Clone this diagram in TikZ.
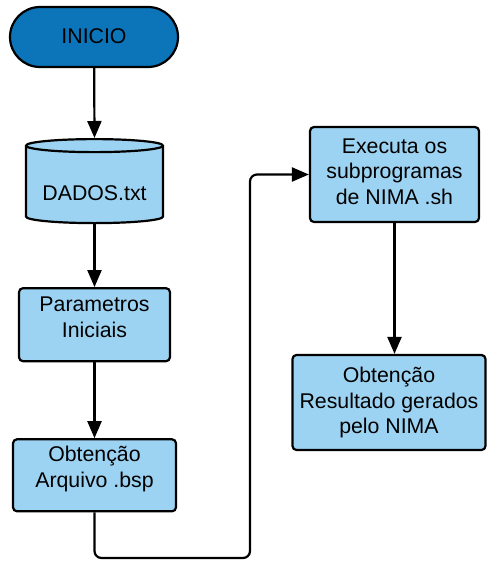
\documentclass[tikz,border=0pt]{standalone}
\usepackage{fontspec}
\setmainfont{Liberation Sans}
\usetikzlibrary{shapes.geometric,shapes.misc,arrows.meta}
\definecolor{caixa}{RGB}{157,211,242}
\definecolor{escuro}{RGB}{12,116,185}
\begin{document}
\begin{tikzpicture}[
	x = 1pt, y = -1pt,
	every node/.style = {font = \fontsize{21.3}{25.5}\selectfont, align = center, inner sep = 0pt},
	borda/.style = {draw, line width = 2.2pt},
	terminal/.style = {borda, rounded rectangle, fill = escuro},
	processo/.style = {borda, rounded corners = 4pt, fill = caixa},
	dados/.style = {borda, cylinder, shape border rotate = 90, aspect = 0.125, fill = caixa},
	sobe/.style = {execute at end node = {\rule[-#1]{0pt}{#1}}},
	desce/.style = {execute at begin node = {\rule{0pt}{#1}}},
	seta/.style = {line width = 2.2pt, -{Triangle[width=14pt,length=17pt]}}
	]

	\useasboundingbox (0,0) rectangle (487,563);

	\node[terminal, sobe = 2.6pt, minimum width = 168pt, minimum height = 60pt] (inicio) at (94,37) {INICIO};
	\node[dados, desce = 31pt, anchor = north, minimum height = 84pt, minimum width = 137pt] (txt) at (94.5,138) {DADOS.txt};
	\node[processo, sobe = 15.3pt, minimum width = 151pt, minimum height = 73pt] (param) at (94.5,324.7) {Parametros\\Iniciais};
	\node[processo, sobe = 17pt, minimum width = 163pt, minimum height = 72pt] (bsp) at (94.5,475.3) {Obtenção\\Arquivo .bsp};
	\node[processo, sobe = 6pt, minimum width = 169pt, minimum height = 95pt] (exec) at (394.5,174.5) {Executa os\\subprogramas\\de NIMA .sh};
	\node[processo, desce = 18.5pt, minimum width = 193pt, minimum height = 95pt] (res) at (389,402.5) {Obtenção\\Resultado gerados\\pelo NIMA};
	\coordinate (desvio) at (250,558);

	\draw[seta] (inicio) -- (txt.north);
	\draw[seta] (txt) -- (param);
	\draw[seta] (param) -- (bsp);
	\draw[seta, rounded corners = 7pt] (bsp.south) |- (desvio) |- (exec.west);
	\draw[seta] (exec) -- (exec |- res.north);

\end{tikzpicture}
\end{document}
